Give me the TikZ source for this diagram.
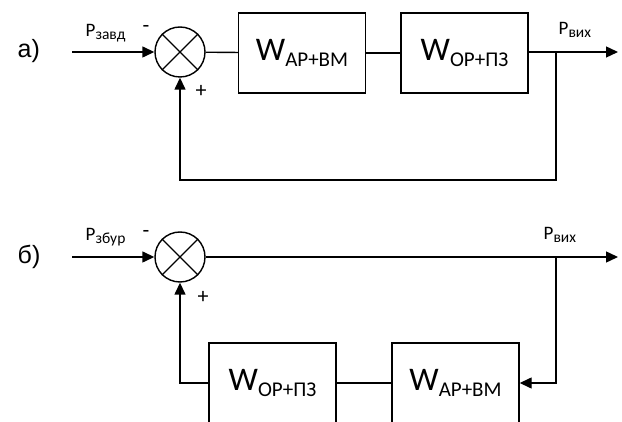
\documentclass[tikz,border=0pt]{standalone}
\usepackage{fontspec}
\setmainfont{Carlito}
\newfontfamily\panelfont{Liberation Sans}
\usetikzlibrary{arrows.meta}
\begin{document}
\begin{tikzpicture}[x=1pt,y=-1pt,
  line width=1.4pt,
  block/.style={draw, minimum width=127pt, minimum height=80pt, inner sep=0pt},
  sumnode/.style={draw, circle, minimum size=50pt, inner sep=0pt},
  sig/.style={-{Triangle[length=12pt,width=11pt]}},
  panel/.style={anchor=base west, inner sep=0pt, font=\panelfont\fontsize{25}{25}\selectfont},
  sgn/.style={inner sep=0pt, font=\fontsize{22}{22}\selectfont},
  plabel/.style={anchor=base west, inner sep=0pt}]
\useasboundingbox (0,0) rectangle (622,422);

\newcommand{\wlabel}[1]{{\fontsize{33}{33}\selectfont W}\raisebox{-6pt}{\fontsize{21}{21}\selectfont #1}}
\newcommand{\plab}[1]{{\fontsize{19}{19}\selectfont P}\raisebox{-3pt}{\fontsize{15.5}{15.5}\selectfont #1}}

% ---------- a) closed loop ----------
\node[panel] (la) at (17,58) {а)};
\coordinate (ina) at (72,52);
\node[sumnode] (sa) at (180,52) {};
\draw (sa.north west) -- (sa.south east);
\draw (sa.north east) -- (sa.south west);
\node[block] (b1) at (302,53) {\wlabel{АР+ВМ}};
\node[block] (b2) at (464.5,53) {\wlabel{ОР+ПЗ}};
\coordinate (bra) at (556,52);
\coordinate (outa) at (618,52);
\coordinate (fa1) at (556,180);
\coordinate (fa2) at (180,180);

\draw[sig] (ina) -- (sa);
\draw (sa) -- (b1);
\draw (b1) -- (b2);
\draw[sig] (b2.east |- bra) -- (outa);
\draw[sig] (bra) -- (fa1) -- (fa2) -- (sa.south);

\node[plabel] (pza) at (85,37) {\plab{завд}};
\node[sgn] (ma) at (146,29) {-};
\node[sgn] (pa) at (201,91) {+};
\node[plabel] (poa) at (558,35) {\plab{вих}};

% ---------- b) disturbance path ----------
\node[panel] (lb) at (17,264) {б)};
\coordinate (inb) at (72,257);
\node[sumnode] (sb) at (180,257) {};
\draw (sb.north west) -- (sb.south east);
\draw (sb.north east) -- (sb.south west);
\coordinate (brb) at (556,257);
\coordinate (outb) at (618,257);
\node[block] (b3) at (455.5,383) {\wlabel{АР+ВМ}};
\node[block] (b4) at (272.5,383) {\wlabel{ОР+ПЗ}};
\coordinate (fb1) at (556,383);
\coordinate (fb2) at (180,383);

\draw[sig] (inb) -- (sb);
\draw[sig] (sb) -- (outb);
\draw[sig] (brb) -- (fb1) -- (b3.east);
\draw (b3) -- (b4);
\draw[sig] (b4.west) -- (fb2) -- (sb.south);

\node[plabel] (pzb) at (85,241) {\plab{збур}};
\node[sgn] (mb) at (146,234) {-};
\node[sgn] (pb) at (203,297) {+};
\node[plabel] (pob) at (543,240) {\plab{вих}};
\end{tikzpicture}
\end{document}
